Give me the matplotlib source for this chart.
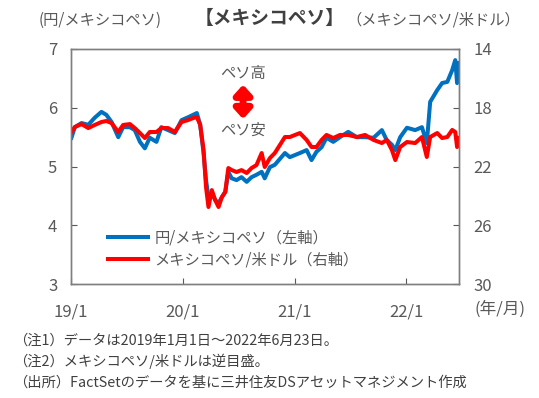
import matplotlib
matplotlib.use("Agg")
import matplotlib.pyplot as plt
import pandas as pd

plt.rcParams['font.family'] = ['Noto Sans CJK JP', 'DejaVu Sans']

# values
dates = [
    "2019-01-02", "2019-01-13", "2019-02-04", "2019-02-26", "2019-03-19", "2019-04-10",
    "2019-04-26", "2019-05-13", "2019-06-04", "2019-06-20", "2019-07-12", "2019-07-28",
    "2019-08-14", "2019-08-30", "2019-09-15", "2019-10-07", "2019-10-23", "2019-11-14",
    "2019-12-06", "2019-12-28", "2020-01-19", "2020-02-04", "2020-02-16", "2020-02-27",
    "2020-03-09", "2020-03-17", "2020-03-25", "2020-04-05", "2020-04-16", "2020-04-27",
    "2020-05-08", "2020-05-19", "2020-05-29", "2020-06-09", "2020-06-25", "2020-07-11",
    "2020-07-28", "2020-08-13", "2020-08-29", "2020-09-15", "2020-09-25", "2020-10-12",
    "2020-10-28", "2020-11-30", "2020-12-16", "2021-01-18", "2021-02-09", "2021-02-25",
    "2021-03-13", "2021-03-30", "2021-04-15", "2021-05-07", "2021-05-29", "2021-06-25",
    "2021-07-23", "2021-08-19", "2021-09-16", "2021-10-13", "2021-10-29", "2021-11-15",
    "2021-11-26", "2021-12-12", "2022-01-03", "2022-01-30", "2022-02-21", "2022-03-09",
    "2022-03-20", "2022-04-12", "2022-04-28", "2022-05-15", "2022-05-31", "2022-06-10",
    "2022-06-16", "2022-06-23",
]
jpy_mxn = [
    5.49, 5.67, 5.74, 5.71, 5.83, 5.93,
    5.88, 5.76, 5.50, 5.67, 5.67, 5.62,
    5.42, 5.31, 5.49, 5.42, 5.67, 5.62,
    5.57, 5.79, 5.84, 5.88, 5.91, 5.71,
    5.23, 4.77, 4.48, 4.55, 4.43, 4.38,
    4.48, 4.57, 4.91, 4.80, 4.77, 4.82,
    4.74, 4.82, 4.86, 4.91, 4.80, 4.99,
    5.03, 5.23, 5.16, 5.23, 5.28, 5.11,
    5.25, 5.33, 5.49, 5.42, 5.50, 5.59,
    5.50, 5.50, 5.49, 5.62, 5.45, 5.37,
    5.28, 5.50, 5.66, 5.62, 5.67, 5.40,
    6.10, 6.30, 6.42, 6.44, 6.64, 6.81,
    6.42, 6.76,
]
mxn_usd = [
    19.65, 19.31, 19.11, 19.38, 19.17, 18.97,
    18.90, 19.04, 19.65, 19.17, 19.11, 19.38,
    19.72, 20.06, 19.65, 19.65, 19.38, 19.38,
    19.65, 18.97, 18.83, 18.70, 18.63, 19.17,
    20.88, 23.39, 24.75, 23.60, 24.28, 24.75,
    24.07, 23.73, 22.10, 22.24, 22.37, 22.24,
    22.44, 22.10, 21.90, 21.08, 22.03, 21.42,
    21.08, 19.99, 19.99, 19.72, 20.19, 20.67,
    20.67, 20.19, 19.85, 20.06, 19.85, 19.85,
    19.99, 19.85, 20.19, 20.40, 20.19, 20.88,
    21.56, 20.67, 20.33, 20.40, 19.99, 21.35,
    19.99, 19.72, 20.06, 19.99, 19.51, 19.65,
    20.67, 20.06,
]
x_ticks = ["2019-01-01", "2020-01-01", "2021-01-01", "2022-01-01"]
x_labels = ["19/1", "20/1", "21/1", "22/1"]

t = pd.to_datetime(dates)
gray = "#595959"

fig = plt.figure(figsize=(5.39, 3.98), dpi=100)
ax = fig.add_axes([0.132, 0.286, 0.720, 0.591])
ax2 = ax.twinx()

l1, = ax.plot(t, jpy_mxn, color="#0070C0", lw=2.9, label="円/メキシコペソ（左軸）")
l2, = ax2.plot(t, mxn_usd, color="#FF0000", lw=2.9, label="メキシコペソ/米ドル（右軸）")

ax.set_xlim(pd.Timestamp("2019-01-01"), pd.Timestamp("2022-06-23"))
ax.set_ylim(3, 7)
ax.set_yticks([3, 4, 5, 6, 7])
ax2.set_ylim(30, 14)
ax2.set_yticks([14, 18, 22, 26, 30])
ax.set_xticks(pd.to_datetime(x_ticks))
ax.set_xticklabels(x_labels)

for a in (ax, ax2):
    for s in a.spines.values():
        s.set_color("#7f7f7f")
        s.set_linewidth(1.0)
    a.tick_params(direction="in", length=4, color=gray, labelcolor=gray, labelsize=12)
ax.tick_params(axis="x", pad=14)
ax.tick_params(axis="y", pad=10)
ax2.tick_params(axis="y", pad=10)

ax2.legend(handles=[l1, l2], loc="lower left", bbox_to_anchor=(0.08, 0.04),
           frameon=False, fontsize=11, labelcolor=gray, handlelength=2.6,
           handletextpad=0.4, labelspacing=0.35, borderaxespad=0)

# direction note
ax.text(0.443, 0.895, "ペソ高", transform=ax.transAxes, ha="center", va="center",
        fontsize=11, color=gray)
ax.text(0.443, 0.655, "ペソ安", transform=ax.transAxes, ha="center", va="center",
        fontsize=11, color=gray)
ax.annotate("", xy=(0.443, 0.86), xytext=(0.443, 0.69), xycoords="axes fraction",
            arrowprops=dict(arrowstyle="<|-|>,head_length=0.55,head_width=0.5",
                            color="#FF0000", lw=5))

fig.text(0.50, 0.953, "【メキシコペソ】", ha="center", va="center", fontsize=13.5,
         fontweight="bold", color="#404040")
fig.text(0.072, 0.950, "(円/メキシコペソ)", ha="left", va="center", fontsize=11, color=gray)
fig.text(0.965, 0.950, "（メキシコペソ/米ドル）", ha="right", va="center", fontsize=11, color=gray)
fig.text(0.928, 0.222, "(年/月)", ha="center", va="center", fontsize=12, color=gray)

notes = [
    "（注1）データは2019年1月1日～2022年6月23日。",
    "（注2）メキシコペソ/米ドルは逆目盛。",
    "（出所）FactSetのデータを基に三井住友DSアセットマネジメント作成",
]
for i, s in enumerate(notes):
    fig.text(0.025, 0.143 - i * 0.052, s, ha="left", va="center", fontsize=10.3, color="#404040")

fig.savefig("out.png", dpi=100)
